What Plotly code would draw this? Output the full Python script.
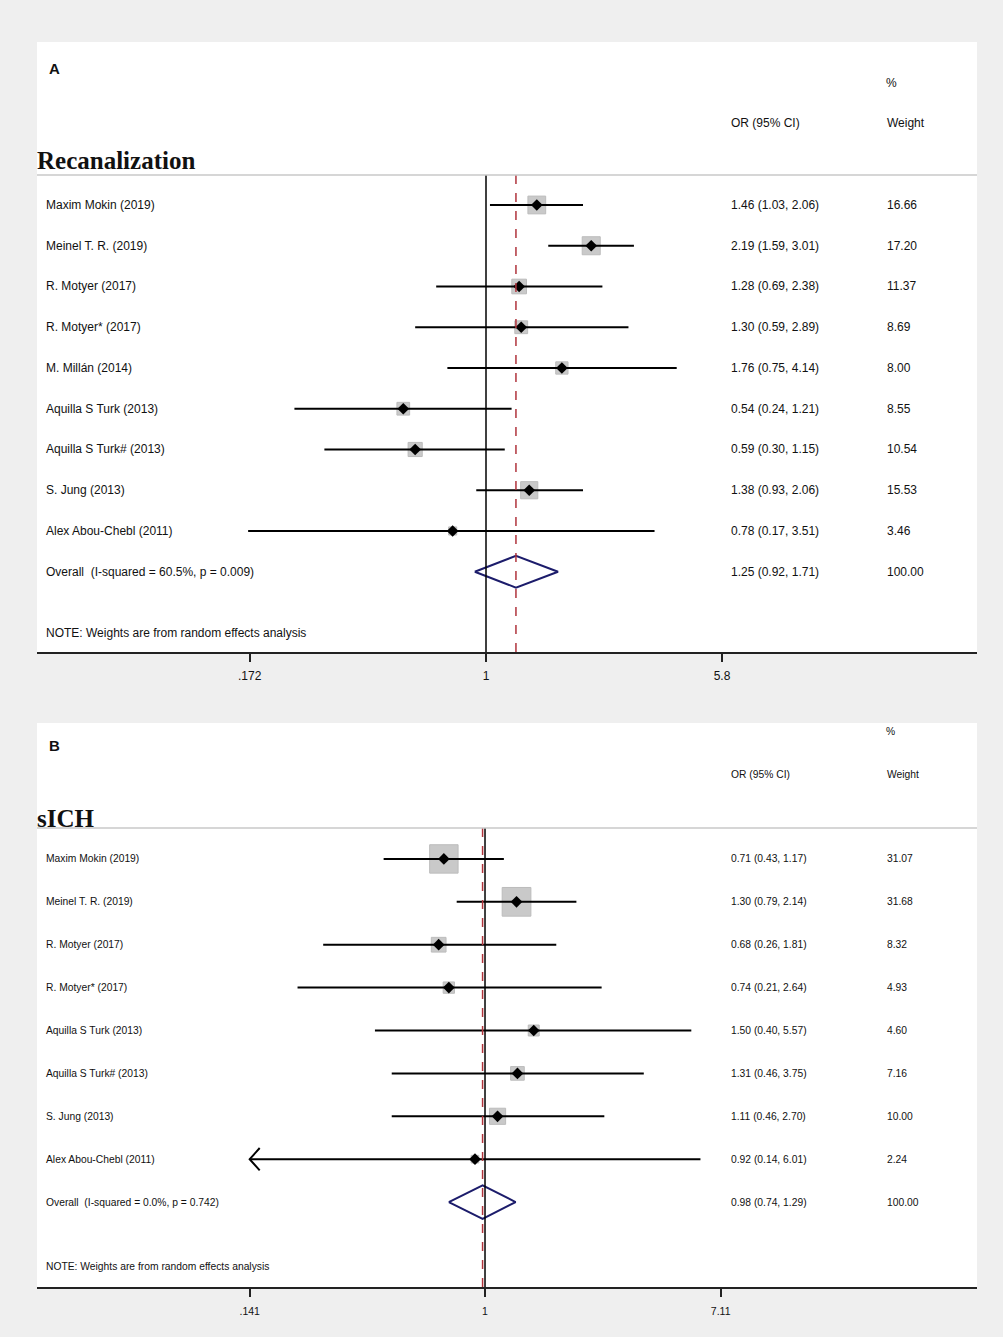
import numpy as np
import plotly.graph_objects as go

# ---- Panel A: Recanalization ----
a_studies = ["Maxim Mokin (2019)", "Meinel T. R. (2019)", "R. Motyer (2017)",
             "R. Motyer* (2017)", "M. Millán (2014)", "Aquilla S Turk (2013)",
             "Aquilla S Turk# (2013)", "S. Jung (2013)", "Alex Abou-Chebl (2011)"]
a_or = [1.46, 2.19, 1.28, 1.30, 1.76, 0.54, 0.59, 1.38, 0.78]
a_lo = [1.03, 1.59, 0.69, 0.59, 0.75, 0.24, 0.30, 0.93, 0.17]
a_hi = [2.06, 3.01, 2.38, 2.89, 4.14, 1.21, 1.15, 2.06, 3.51]
a_weight = [16.66, 17.20, 11.37, 8.69, 8.00, 8.55, 10.54, 15.53, 3.46]
a_overall = (1.25, 0.92, 1.71)
a_overall_label = "Overall  (I-squared = 60.5%, p = 0.009)"
a_ticks = [0.172, 1, 5.8]
a_ticktext = [".172", "1", "5.8"]

# ---- Panel B: sICH ----
b_studies = ["Maxim Mokin (2019)", "Meinel T. R. (2019)", "R. Motyer (2017)",
             "R. Motyer* (2017)", "Aquilla S Turk (2013)", "Aquilla S Turk# (2013)",
             "S. Jung (2013)", "Alex Abou-Chebl (2011)"]
b_or = [0.71, 1.30, 0.68, 0.74, 1.50, 1.31, 1.11, 0.92]
b_lo = [0.43, 0.79, 0.26, 0.21, 0.40, 0.46, 0.46, 0.14]
b_hi = [1.17, 2.14, 1.81, 2.64, 5.57, 3.75, 2.70, 6.01]
b_weight = [31.07, 31.68, 8.32, 4.93, 4.60, 7.16, 10.00, 2.24]
b_overall = (0.98, 0.74, 1.29)
b_overall_label = "Overall  (I-squared = 0.0%, p = 0.742)"
b_ticks = [0.141, 1, 7.11]
b_ticktext = [".141", "1", "7.11"]
b_arrow_left = ["Alex Abou-Chebl (2011)"]

note = "NOTE: Weights are from random effects analysis"

W, H = 1006, 1339


def px(p):
    return p / W


def py(p):
    return 1 - p / H


fig = go.Figure()
shapes = []
annotations = []

# background
shapes.append(dict(type="rect", xref="paper", yref="paper", x0=0, x1=px(1003),
                   y0=py(1337), y1=1, fillcolor="#efefef", line_width=0, layer="below"))
shapes.append(dict(type="rect", xref="paper", yref="paper", x0=px(37), x1=px(977),
                   y0=py(652), y1=py(42), fillcolor="white", line_width=0, layer="below"))
shapes.append(dict(type="rect", xref="paper", yref="paper", x0=px(37), x1=px(977),
                   y0=py(1287), y1=py(723), fillcolor="white", line_width=0, layer="below"))


def panel(xa, ya, studies, est, lo, hi, weight, overall, overall_label,
          box_k, fs, arrow_list, dy_arrow, fx_arrow, clip):
    n = len(studies)
    rows = list(range(1, n + 1))
    orow = n + 1
    # weight boxes
    fig.add_trace(go.Scatter(
        x=est, y=rows, mode="markers", xaxis=xa, yaxis=ya, hoverinfo="skip",
        marker=dict(symbol="square", size=[box_k * np.sqrt(w) for w in weight],
                    color="#b3b3b3", line=dict(color="#a0a0a0", width=1)),
        showlegend=False))
    # CI lines
    cx, cy = [], []
    for s, l, h, r in zip(studies, lo, hi, rows):
        l0 = clip if s in arrow_list else l
        cx += [l0, h, None]
        cy += [r, r, None]
        if s in arrow_list:
            cx += [clip * fx_arrow, clip, clip * fx_arrow, None]
            cy += [r - dy_arrow, r, r + dy_arrow, None]
    fig.add_trace(go.Scatter(x=cx, y=cy, mode="lines", xaxis=xa, yaxis=ya,
                             line=dict(color="black", width=2), hoverinfo="skip",
                             showlegend=False))
    # point estimates
    fig.add_trace(go.Scatter(x=est, y=rows, mode="markers", xaxis=xa, yaxis=ya,
                             marker=dict(symbol="diamond", size=9, color="black"),
                             showlegend=False))
    # overall diamond
    e, l, h = overall
    fig.add_trace(go.Scatter(x=[l, e, h, e, l], y=[orow, orow - 0.39, orow, orow + 0.39, orow],
                             mode="lines", xaxis=xa, yaxis=ya,
                             line=dict(color="#1c1c6b", width=2), showlegend=False))
    axref = "x" if xa == "x" else "x2"
    ayref = "y" if ya == "y" else "y2"
    shapes.append(dict(type="line", xref=axref, yref=f"{ayref} domain", x0=1, x1=1, y0=0, y1=1,
                       line=dict(color="black", width=1.5)))
    shapes.append(dict(type="line", xref=axref, yref=f"{ayref} domain", x0=e, x1=e, y0=0, y1=1,
                       line=dict(color="#b0343c", width=1.5, dash="dash")))
    # text columns
    labels = studies + [overall_label]
    ortxt = [f"{a:.2f} ({b:.2f}, {c:.2f})" for a, b, c in zip(est, lo, hi)] + [f"{e:.2f} ({l:.2f}, {h:.2f})"]
    wtxt = [f"{w:.2f}" for w in weight] + ["100.00"]
    for r, lab, o, wt in zip(rows + [orow], labels, ortxt, wtxt):
        for xp, t in ((44, lab), (729, o), (885, wt)):
            annotations.append(dict(xref="paper", yref=ayref, x=px(xp), y=r, text=t,
                                    showarrow=False, xanchor="left", yanchor="middle",
                                    font=dict(size=fs, color="#111111")))
    annotations.append(dict(xref="paper", yref=ayref, x=px(44), y=orow + 1.5, text=note,
                            showarrow=False, xanchor="left", yanchor="middle",
                            font=dict(size=fs, color="#111111")))


panel("x", "y", a_studies, a_or, a_lo, a_hi, a_weight, a_overall, a_overall_label,
      4.35, 12, [], 0, 1, a_ticks[0])
panel("x2", "y2", b_studies, b_or, b_lo, b_hi, b_weight, b_overall, b_overall_label,
      5.1, 10.3, b_arrow_left, 0.26, 1.087, b_ticks[0])


def head(x, y, t, size, bold=False, family="Liberation Sans, Arial, sans-serif"):
    annotations.append(dict(xref="paper", yref="paper", x=px(x), y=py(y),
                            text=f"<b>{t}</b>" if bold else t, showarrow=False,
                            xanchor="left", yanchor="middle",
                            font=dict(size=size, color="#111111", family=family)))


serif = "Liberation Serif, Times New Roman, serif"
head(47, 68, "A", 15, bold=True)
head(884, 83, "%", 12)
head(729, 123, "OR (95% CI)", 12)
head(885, 123, "Weight", 12)
head(35, 160, "Recanalization", 25, bold=True, family=serif)

head(47, 745, "B", 15, bold=True)
head(884, 731, "%", 10.3)
head(729, 774, "OR (95% CI)", 10.3)
head(885, 774, "Weight", 10.3)
head(35, 818, "sICH", 25, bold=True, family=serif)

# header separator lines
for yy in (175, 828):
    shapes.append(dict(type="line", xref="paper", yref="paper", x0=px(37), x1=px(977),
                       y0=py(yy), y1=py(yy), line=dict(color="#c8c8c8", width=1.5)))

axis_common = dict(type="log", showgrid=False, zeroline=False, showline=True,
                   linecolor="#222222", linewidth=1.5, ticks="outside", ticklen=8,
                   tickwidth=1.5, tickcolor="#222222")

fig.update_layout(
    width=W, height=H,
    margin=dict(l=0, r=0, t=0, b=0),
    paper_bgcolor="white", plot_bgcolor="rgba(0,0,0,0)",
    font=dict(family="Liberation Sans, Arial, sans-serif", color="#111111"),
    xaxis=dict(domain=[px(37), px(977)], range=[-1.4526, 1.5885], anchor="y",
               tickvals=a_ticks, ticktext=a_ticktext, tickfont=dict(size=12),
               ticklabelstandoff=4, **axis_common),
    yaxis=dict(domain=[py(652), py(175)], range=[11.97, 0.264], visible=False, anchor="x"),
    xaxis2=dict(domain=[px(37), px(977)], range=[-1.6197, 1.7787], anchor="y2",
                tickvals=b_ticks, ticktext=b_ticktext, tickfont=dict(size=10.5),
                ticklabelstandoff=6, **axis_common),
    yaxis2=dict(domain=[py(1287), py(828)], range=[10.98, 0.279], visible=False, anchor="x2"),
    shapes=shapes,
    annotations=annotations,
)

# drop the default page margin so the figure sits at the window origin
fig.write_html("out.html", config={"displayModeBar": False},
               post_script="document.body.style.margin='0';")
